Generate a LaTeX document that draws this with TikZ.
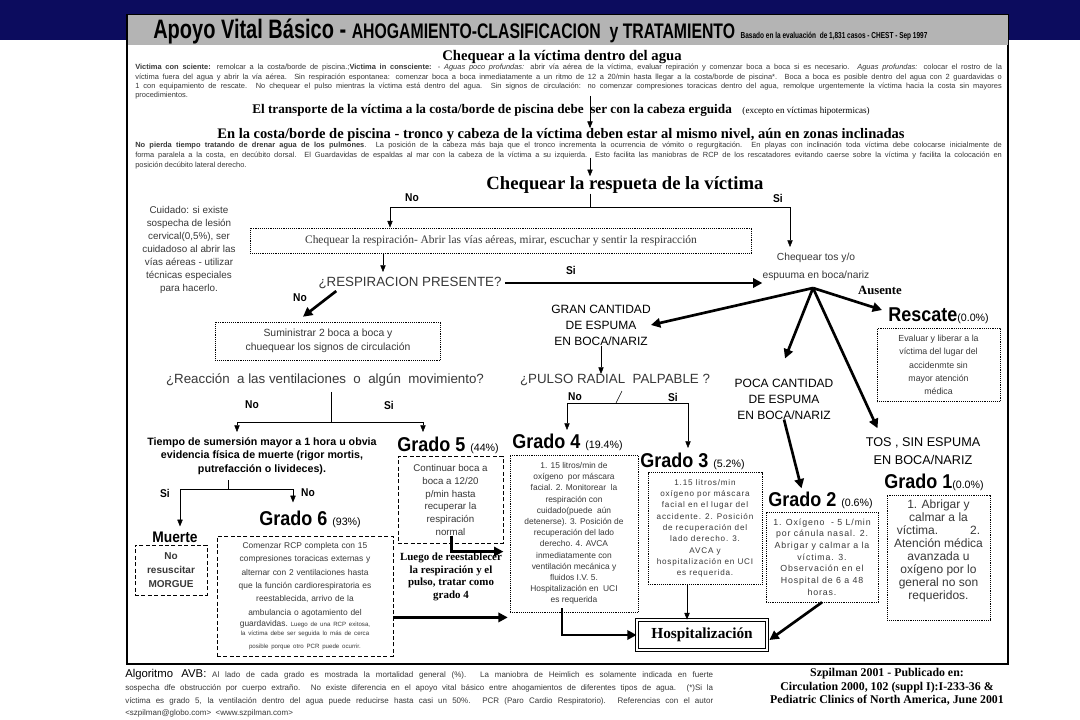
\documentclass[tikz,border=0pt]{standalone}
\usepackage{fontspec}
\setmainfont{Liberation Serif}
\setsansfont{Liberation Sans}
\newfontfamily\titlesf[FakeStretch=0.75]{Liberation Sans}
\newfontfamily\gradesf[FakeStretch=0.9]{Liberation Sans}
\newfontfamily\spacedsf[LetterSpace=10]{Liberation Sans}
\usetikzlibrary{positioning,arrows.meta,calc}
\definecolor{navy}{HTML}{0C0C5E}
\definecolor{bargray}{HTML}{B4B4B4}
\definecolor{ink}{HTML}{383838}
\newcommand{\fsz}[2]{\fontsize{#1}{#2}\selectfont}
\newcommand{\pct}[1]{{\sffamily\mdseries\fsz{8}{9}(#1)}}
\AtBeginDocument{\setlength{\lineskiplimit}{-10pt}}

\begin{document}
\begin{tikzpicture}[x=0.75pt,y=-0.75pt,inner sep=0pt,
  hd/.style={font=\rmfamily\bfseries\fsz{11}{12}},
  para/.style={font=\sffamily\fsz{5.6}{7}\selectfont,text=ink,align=justify,anchor=north west},
  ask/.style={font=\sffamily\fsz{10}{11},text=ink},
  caps/.style={font=\sffamily\fsz{9}{12},align=center},
  yn/.style={font=\gradesf\bfseries\fsz{8.5}{10}},
  grade/.style={font=\gradesf\bfseries\fsz{15}{16},anchor=west},
  dotbox/.style={draw,dash pattern=on 0.6pt off 0.8pt,thin,align=center,text=ink,font=\sffamily\fsz{6.3}{8.4}},
  dashbox/.style={draw,dash pattern=on 3pt off 1.8pt,thin,align=center,text=ink,font=\sffamily\fsz{6.3}{8.4}},
  arr/.style={thin,-{Triangle[length=5pt,width=4pt]}},
  fat/.style={line width=2pt,-{Triangle[length=7pt,width=7pt]}}]
\useasboundingbox (0,0) rectangle (1080,720);
\fill[white] (0,0) rectangle (1080,720);
\fill[navy] (0,0) rectangle (1080,40);
\draw[fill=white,line width=0.9pt] (127,15) rectangle (1008,664);
\fill[bargray] (127.5,15.5) rectangle (1007.5,45);

% titulo y textos de arriba
\node[anchor=west] (title) at (153,31) {\titlesf\bfseries\fsz{20}{22}Apoyo Vital Básico - {\fsz{15.8}{18}AHOGAMIENTO-CLASIFICACION\ \ y TRATAMIENTO}\ {\fsz{6.5}{8}Basado en la evaluación\ \ de 1,831 casos - CHEST - Sep 1997}};
\node[hd] (agua) at (562,57) {Chequear a la víctima dentro del agua};
\node[para,text width=650pt] (p1) at (135,64) {\textbf{Victima con sciente:} remolcar a la costa/borde de piscina.;\textbf{Victima in consciente:} - \emph{Aguas poco profundas:} abrir vía aérea de la víctima, evaluar repiración y comenzar boca a boca si es necesario. \emph{Aguas profundas:} colocar el rostro de la\linebreak víctima fuera del agua y abrir la vía aérea. Sin respiración espontanea: comenzar boca a boca inmediatamente a un ritmo de 12 a 20/min hasta llegar a la costa/borde de piscina*. Boca a boca es posible dentro del agua con 2 guardavidas o\linebreak 1 con equipamiento de rescate. No chequear el pulso mientras la víctima está dentro del agua. Sin signos de circulación: no comenzar compresiones toracicas dentro del agua, remolque urgentemente la víctima hacia la costa sin mayores\linebreak procedimientos.};
\node[hd,font=\rmfamily\bfseries\fsz{9.9}{12},anchor=west] (transp) at (252,110) {El transporte de la víctima a la costa/borde de piscina debe\ \ ser con la cabeza erguida\hspace{8pt}{\mdseries\fsz{6.8}{8}(excepto en víctimas hipotermicas)}};
\node[hd,font=\rmfamily\bfseries\fsz{10.9}{12}] (costa) at (561,135) {En la costa/borde de piscina - tronco y cabeza de la víctima deben estar al mismo nivel, aún en zonas inclinadas};
\node[para,text width=650pt,font=\sffamily\fsz{5.6}{7.5}] (p2) at (135,142) {\textbf{No pierda tiempo tratando de drenar agua de los pulmones}. La posición de la cabeza más baja que el tronco incrementa la ocurrencia de vómito o regurgitación. En playas con inclinación toda víctima debe colocarse inicialmente de\linebreak forma paralela a la costa, en decúbito dorsal. El Guardavidas de espaldas al mar con la cabeza de la víctima a su izquierda. Esto facilita las maniobras de RCP de los rescatadores evitando caerse sobre la víctima y facilita la colocación en\linebreak posición decúbito lateral derecho.};
\node[font=\rmfamily\bfseries\fsz{14}{15}] (resph) at (625,185) {Chequear la respueta de la víctima};

% rama izquierda
\node[font=\sffamily\fsz{7.4}{9.75},text=ink,align=center] (cuid) at (189,250) {Cuidado: si existe\\sospecha de lesión\\cervical(0,5\%), ser\\cuidadoso al abrir las\\vías aéreas - utilizar\\técnicas especiales\\para hacerlo.};
\node[dotbox,font=\rmfamily\fsz{8.6}{10},minimum width=376pt,minimum height=19pt] (respbox) at (501,240.5) {Chequear la respiración- Abrir las vías aéreas, mirar, escuchar y sentir la respiracción};
\node[ask] (respq) at (410,283) {¿RESPIRACION PRESENTE?};
\node[dotbox,font=\sffamily\fsz{7.8}{10.5},minimum width=169pt,minimum height=28.5pt] (sumi) at (328,341) {Suministrar 2 boca a boca y\\chuequear los signos de circulación};
\node[ask] (reac) at (325,380) {¿Reacción\ \ a las ventilaciones\ \ o\ \ algún\ \ movimiento?};
\node[font=\sffamily\bfseries\fsz{8}{10.3},align=center] (tiempo) at (262,456) {Tiempo de sumersión mayor a 1 hora u obvia\\evidencia física de muerte (rigor mortis,\\putrefacción o livideces).};
\node[font=\gradesf\bfseries\fsz{11.5}{12}] (muert) at (175,537) {Muerte};
\node[dashbox,font=\sffamily\bfseries\fsz{7.5}{10.5},minimum width=54pt,minimum height=37.5pt] (muerbox) at (171,570) {No\\resuscitar\\MORGUE};
\node[grade] (g6t) at (259,519) {Grado 6 \pct{93\%}};
\node[dashbox,text width=128pt,minimum width=132pt,minimum height=90pt,font=\sffamily\fsz{6.3}{10}] (g6box) at (305,596) {Comenzar RCP completa con 15\\compresiones toracicas externas y\\alternar con 2 ventilaciones hasta\\que la función cardiorespiratoria es\\reestablecida, arrivo de la\\ambulancia o agotamiento del\par\vspace{2.5pt}\fsz{4.6}{6.2}{\fsz{6.3}{8}guardavidas.}\ Luego de una RCP exitosa,\\la víctima debe ser seguida lo más de cerca\\posible porque otro PCR puede ocurrir.};
\node[grade] (g5t) at (397,445) {Grado 5 \pct{44\%}};
\node[dashbox,font=\sffamily\fsz{7.3}{9.6},minimum width=79pt,minimum height=65pt] (g5box) at (450.5,500) {Continuar boca a\\boca a 12/20\\p/min hasta\\recuperar la\\respiración\\normal};
\node[font=\rmfamily\bfseries\fsz{8.2}{9.5},align=center] (luego) at (451,577) {Luego de reestablecer\\la respiración y el\\pulso, tratar como\\grado 4};

% rama derecha
\node[font=\sffamily\fsz{7.7}{13},align=center,text=ink] (tos) at (816,267) {Chequear tos y/o\\espuuma en boca/nariz};
\node[font=\rmfamily\bfseries\fsz{9.5}{10}] (aus) at (880,290) {Ausente};
\node[grade] (resct) at (888,316) {Rescate\pct{0.0\%}};
\node[dotbox,font=\sffamily\fsz{6.6}{10},minimum width=92pt,minimum height=55pt] (rescbox) at (938.5,365) {Evaluar y liberar a la\\víctima del lugar del\\accidenmte sin\\mayor atención\\médica};
\node[caps] (gran) at (601,325) {GRAN CANTIDAD\\DE ESPUMA\\EN BOCA/NARIZ};
\node[ask] (pulso) at (615,380) {¿PULSO RADIAL\ \ PALPABLE ?};
\node[caps] (poca) at (784,399) {POCA CANTIDAD\\DE ESPUMA\\EN BOCA/NARIZ};
\node[caps,font=\sffamily\fsz{9.5}{13.5}] (tos2) at (923,451) {TOS , SIN ESPUMA\\EN BOCA/NARIZ};
\node[grade] (g4t) at (512,442) {Grado 4 \pct{19.4\%}};
\node[dotbox,minimum width=96pt,minimum height=118pt] (g4box) at (574,533.5) {1. 15 litros/min de\\oxígeno\ \ por máscara\\facial. 2. Monitorear\ \ la\\respiración con\\cuidado(puede\ \ aún\\detenerse). 3. Posición de\\recuperación del lado\\derecho. 4. AVCA\\inmediatamente con\\ventilación mecánica y\\fluidos I.V. 5.\\Hospitalización en\ \ UCI\\es requerida};
\node[grade] (g3t) at (640,461) {Grado 3 \pct{5.2\%}};
\node[dotbox,font=\spacedsf\fsz{6.1}{8.5},minimum width=85.5pt,minimum height=84pt] (g3box) at (705,528.5) {1.15 litros/min\\oxígeno por máscara\\facial en el lugar del\\accidente. 2. Posición\\de recuperación del\\lado derecho. 3.\\AVCA y\\hospitalización en UCI\\es requerida.};
\node[grade] (g2t) at (768,500) {Grado 2 \pct{0.6\%}};
\node[dotbox,font=\spacedsf\fsz{6.6}{8.75},minimum width=84pt,minimum height=67.5pt] (g2box) at (822,557) {1. Oxígeno\ \ - 5 L/min\\por cánula nasal. 2.\\Abrigar y calmar a la\\víctima. 3.\\Observación en el\\Hospital de 6 a 48\\horas.};
\node[grade] (g1t) at (884,482) {Grado 1\pct{0.0\%}};
\node[dotbox,minimum width=77pt,minimum height=94pt] (g1box) at (938.5,557.5) {};
\node[font=\sffamily\fsz{9}{9.75},text=ink,align=center,below=4pt of g1box.north] (g1txt) {1. Abrigar y\\calmar a la\\víctima.\hspace{24pt}2.\\Atención médica\\avanzada u\\oxígeno por lo\\general no son\\requeridos.};
\node[draw,double,double distance=1.2pt,line width=0.6pt,font=\rmfamily\bfseries\fsz{11.5}{12},minimum width=97.5pt,minimum height=22.5pt] (hosp) at (702,635) {Hospitalización};

% textos de abajo
\node[para,font=\sffamily\fsz{6}{9.6},text width=441pt] (avb) at (125,669) {{\color{black}\fsz{8.5}{9.6}Algoritmo AVB:} Al lado de cada grado es mostrada la mortalidad general (\%). La maniobra de Heimlich es solamente indicada en fuerte\linebreak sospecha dfe obstrucción por cuerpo extraño. No existe diferencia en el apoyo vital básico entre ahogamientos de diferentes tipos de agua. (*)Si la\linebreak víctima es grado 5, la ventilación dentro del agua puede reducirse hasta casi un 50\%. PCR (Paro Cardio Respiratorio). Referencias con el autor\linebreak <szpilman@globo.com>\ \ <www.szpilman.com>};
\node[font=\rmfamily\bfseries\fsz{8.9}{10.2},align=center] (cite) at (887,687) {Szpilman 2001 - Publicado en:\\Circulation 2000, 102 (suppl I):I-233-36 \&\\Pediatric Clinics of North America, June 2001};

\foreach \x/\y/\t in {412/198/No, 778/198/Si, 571/270/Si, 300/298/No, 252/405/No, 389/405/Si,
  165/493/Si, 308/493/No, 575/397/No, 673/397/Si}
  {\node[yn] (yn-\x) at (\x,\y) {\t};}

% flechas
\coordinate (a1) at (590,96);
\draw[arr] (a1) -- (a1 |- costa.north);
\coordinate (a2) at (590,158);
\draw[arr] (a2) -- (a2 |- resph.north);
\coordinate (rj) at (590,207);
\coordinate (rjl) at (390,0);
\coordinate (rjr) at (790,247);
\draw (rj |- resph.south) -- (rj);
\draw[arr] (rj) -| (respbox.north -| rjl);
\draw[arr] (rj) -| (rjr);
\coordinate (b1) at (383,272);
\draw[arr] (respbox.south -| b1) -- (b1);
\draw[fat] ($(respq.east)+(3,0)$) -- (respq.east -| tos.west);
\draw[fat] ($(respq.south west)+(18,2)$) -- ($(sumi.north)+(-25,-5)$);
\coordinate (rq) at (331,422);
\coordinate (rql) at (237,432);
\coordinate (rqr) at (423,432);
\draw[shorten <=4pt] (reac.south -| rq) -- (rq);
\draw[arr] (rq) -| (rql);
\draw[arr] (rq) -| (rqr);
\coordinate (tq) at (228,489);
\draw[shorten <=4pt] (tiempo.south -| tq) -- (tq);
\draw[arr] (tq) -| ($(muert.north)+(5,-5)$);
\draw[arr] (tq) -| ($(g6t.north west)+(34,-8)$);
\draw[fat] ($(g5box.south)+(1,-8)$) |- ($(g5box.south east)+(0,8)$);
\draw[fat] ($(g6box.east |- g4box.south)+(0,5)$) -- ($(g4box.south west)+(-2,5)$);
\draw[fat] ($(g4box.south)+(-12,-4)$) |- (hosp.west);
\coordinate (g3b) at ($(g3box.south)+(-18,0)$);
\draw[arr] (g3b) -- (g3b |- hosp.north);
\draw[fat] (g2box.south) -- ($(hosp.east)+(2,5)$);
\coordinate (pc) at (616,403);
\coordinate (pl) at (567,430);
\coordinate (pr) at (688,448);
\draw ($(pulso.south)+(7,5)$) -- (pc);
\draw[arr] (pc) -| (pl);
\draw[arr] (pc) -| (pr);
\draw[arr] (gran.south) -- (gran.south |- pulso.north);
\coordinate (fan) at (813,288);
\draw[fat] (fan) -- (gran.east);
\draw[fat] (fan) -- ($(poca.north)+(1,-20)$);
\draw[fat] (fan) -- ($(tos2.north west)+(12,-9)$);
\draw[fat] (fan) -- ($(resct.west)+(-6,-6)$);
\draw[fat] ($(poca.south)+(0,0)$) -- ($(g2t.north)+(-19,-3)$);
\end{tikzpicture}
\end{document}
